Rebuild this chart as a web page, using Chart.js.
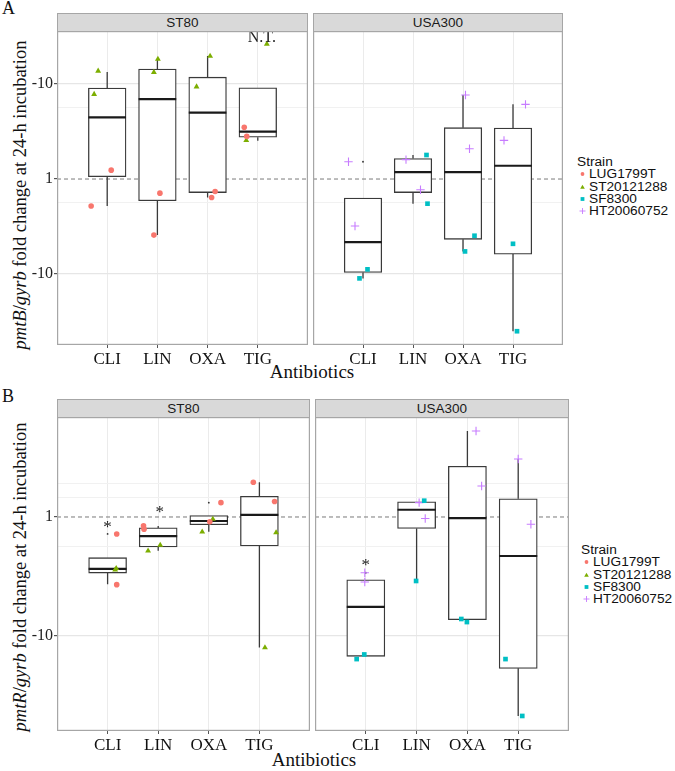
<!DOCTYPE html>
<html><head><meta charset="utf-8">
<script src="https://cdn.jsdelivr.net/npm/chart.js@4.4.1/dist/chart.umd.min.js"></script>
<style>
body{margin:0;background:#fff;width:675px;height:771px;position:relative;overflow:hidden;font-family:'Liberation Serif','Times New Roman',serif;}
canvas{position:absolute}
.strip{position:absolute;background:#d9d9d9;border:1px solid #a6a6a6;box-sizing:border-box;font-family:'Liberation Sans',Arial,sans-serif;font-size:13.5px;color:#1a1a1a;text-align:center;line-height:17px}
.ytitle{position:absolute;white-space:nowrap;font-size:18.5px;transform:translate(-50%,-50%) rotate(-90deg);color:#111}
.xtitle{position:absolute;font-size:19px;transform:translate(-50%,-50%);color:#111;white-space:nowrap}
.plab{position:absolute;font-size:18px;color:#111}
.legend{position:absolute;font-family:'Liberation Sans',Arial,sans-serif;font-size:13.7px;color:#111;line-height:12.3px;white-space:nowrap}
.legend .row{display:flex;align-items:center;height:12.3px}
.legend svg{display:block;margin-right:1px}
</style></head><body>
<div class="plab" style="left:2px;top:-2px">A</div>
<div class="plab" style="left:2px;top:386px">B</div>
<div class="strip" style="left:57px;top:13px;width:251px;height:19px">ST80</div>
<div class="strip" style="left:313px;top:13px;width:250px;height:19px">USA300</div>
<div class="strip" style="left:57px;top:399px;width:253px;height:19px">ST80</div>
<div class="strip" style="left:315px;top:399px;width:254px;height:19px">USA300</div>
<div class="ytitle" style="left:20px;top:195px"><i>pmtB</i>/<i>gyrb</i> fold change at 24-h incubation</div>
<div class="ytitle" style="left:20px;top:577px"><i>pmtR</i>/<i>gyrb</i> fold change at 24-h incubation</div>
<div class="xtitle" style="left:312px;top:372px">Antibiotics</div>
<div class="xtitle" style="left:314px;top:760px">Antibiotics</div>
<div id="legA" class="legend" style="left:577px;top:156px"></div>
<div id="legB" class="legend" style="left:581px;top:544px"></div>
<script>
// ---------------- DATA ----------------
const categories = ['CLI', 'LIN', 'OXA', 'TIG'];
const strainNames = ['LUG1799T', 'ST20121288', 'SF8300', 'HT20060752'];
const yTickValues = [0.1, 1, 10];
const yTickLabels = ['-10', '1', '-10'];

// box stats per category: [lower whisker, Q1, median, Q3, upper whisker] (fold change)
const boxA_ST80   = [[0.52, 1.06, 4.46, 9.08, 13.4], [0.257, 0.59, 6.95, 14.4, 18.3], [0.64, 0.72, 4.99, 11.8, 19.7], [2.53, 2.75, 3.15, 9.14, 9.14]];
const boxA_USA300 = [[0.090, 0.104, 0.217, 0.63, 0.63], [0.55, 0.72, 1.18, 1.64, 1.79], [0.173, 0.232, 1.18, 3.47, 7.66], [0.025, 0.162, 1.38, 3.44, 6.11]];
const boxB_ST80   = [[0.272, 0.338, 0.366, 0.455, 0.455], [0.52, 0.56, 0.69, 0.81, 0.84], [0.75, 0.86, 0.925, 1.03, 1.03], [0.080, 0.57, 1.04, 1.49, 1.96]];
const boxB_USA300 = [[0.0675, 0.0675, 0.176, 0.297, 0.297], [0.29, 0.80, 1.15, 1.34, 1.34], [0.137, 0.137, 0.98, 2.67, 5.28], [0.0213, 0.0535, 0.47, 1.42, 3.07]];

// outliers per category
const outA_ST80   = [[], [], [], []];
const outA_USA300 = [[1.52], [], [], []];
const outB_ST80   = [[0.72], [], [1.32], []];
const outB_USA300 = [[0.34], [], [], []];

// replicate values per category (fold change) and horizontal jitter (category units)
const A_ST80_LUG1799T        = [[1.24, 0.52], [0.71, 0.257], [0.74, 0.64], [3.5, 2.81]];
const A_ST80_LUG1799T_jit    = [[0.08, -0.32], [0.05, -0.07], [0.15, 0.08], [-0.27, -0.22]];
const A_ST80_ST20121288      = [[13.7, 7.8], [18.3, 13.3], [19.7, 9.37], [26.4, 2.55]];
const A_ST80_ST20121288_jit  = [[-0.18, -0.26], [0.01, -0.07], [0.05, -0.22], [0.18, -0.23]];
const A_USA300_SF8300        = [[0.112, 0.090], [1.79, 0.55], [0.253, 0.173], [0.208, 0.025]];
const A_USA300_SF8300_jit    = [[0.09, -0.07], [0.27, 0.29], [0.23, 0.04], [0.0, 0.08]];
const A_USA300_HT20060752    = [[1.52, 0.32], [1.6, 0.77], [7.66, 2.08], [6.11, 2.55]];
const A_USA300_HT20060752_jit= [[-0.29, -0.16], [-0.14, 0.15], [0.05, 0.13], [0.25, -0.18]];

const B_ST80_LUG1799T        = [[0.72, 0.27], [0.845, 0.79], [1.32, 0.91], [1.96, 1.35]];
const B_ST80_LUG1799T_jit    = [[0.18, 0.18], [-0.29, -0.28], [0.24, 0.02], [-0.12, 0.30]];
const B_ST80_ST20121288      = [[0.37, 0.36], [0.52, 0.58], [0.96, 0.75], [0.74, 0.080]];
const B_ST80_ST20121288_jit  = [[0.17, 0.15], [-0.20, 0.04], [0.08, -0.13], [0.33, 0.11]];
const B_USA300_SF8300        = [[0.070, 0.064], [1.37, 0.29], [0.139, 0.131], [0.064, 0.0213]];
const B_USA300_SF8300_jit    = [[-0.03, -0.18], [0.15, -0.01], [-0.12, -0.01], [-0.25, 0.08]];
const B_USA300_HT20060752    = [[0.34, 0.284], [1.32, 0.97], [5.28, 1.82], [3.07, 0.87]];
const B_USA300_HT20060752_jit= [[-0.02, -0.02], [0.05, 0.17], [0.17, 0.28], [0.0, 0.25]];

// text annotations
const notesA_ST80   = [{cat: 4, dx: 0.08, value: 31, text: 'N.T.'}];
const notesA_USA300 = [];
const notesB_ST80   = [{cat: 1, dx: 0, value: 0.885, text: '*'}, {cat: 2, dx: 0.03, value: 1.2, text: '*'}];
const notesB_USA300 = [{cat: 1, dx: 0, value: 0.427, text: '*'}];

// minor grid positions (fold change)
const minorA = [5.62, 0.562];
const minorB = [1.92, 1.47, 0.562];

// ---------------- STYLE ----------------
const strainStyle = {
  LUG1799T:   {color: '#F8766D', shape: 'circle',   r: 2.8},
  ST20121288: {color: '#7CAE00', shape: 'triangle', r: 3.4},
  SF8300:     {color: '#00BFC4', shape: 'rect',     r: 3.3},
  HT20060752: {color: '#C77CFF', shape: 'cross',    r: 4.2}
};
const SERIF = "'Liberation Serif','Times New Roman',serif";

function buildFacet(p) {
  const xH = 28;
  const canvas = document.createElement('canvas');
  canvas.width = p.width; canvas.height = p.plotH + xH;
  canvas.style.left = p.left + 'px'; canvas.style.top = p.top + 'px';
  canvas.style.width = p.width + 'px'; canvas.style.height = (p.plotH + xH) + 'px';
  document.body.appendChild(canvas);
  const plotW = p.width - p.yAxisW;
  const unitPx = plotW / 5;
  const half = 0.375;

  const datasets = [];
  p.points.forEach(s => {
    const st = strainStyle[s.strain];
    const data = [];
    s.values.forEach((arr, c) => arr.forEach((v, k) => data.push({x: c + 1 + s.jitter[c][k], y: v})));
    datasets.push({
      type: 'scatter', data, order: 0,
      pointStyle: st.shape, radius: st.r,
      backgroundColor: st.color, borderColor: st.color,
      borderWidth: st.shape === 'cross' ? 1.1 : 0
    });
  });
  const outData = [];
  p.outliers.forEach((arr, c) => arr.forEach(v => outData.push({x: c + 1, y: v})));
  datasets.push({type: 'scatter', data: outData, order: 1, radius: 0.9, backgroundColor: '#333', borderWidth: 0});

  const med = [], whisk = [], bars = [];
  p.box.forEach((b, c) => {
    const x = c + 1;
    med.push({x: x - half, y: b[2]}, {x: x + half, y: b[2]}, {x: x, y: null});
    whisk.push({x, y: b[4]}, {x, y: b[3]}, {x, y: null}, {x, y: b[1]}, {x, y: b[0]}, {x, y: null});
    bars.push({x, y: [b[1], b[3]]});
  });
  datasets.push({type: 'line', data: med, order: 2, borderColor: '#1a1a1a', borderWidth: 2.2, pointRadius: 0, spanGaps: false});
  datasets.push({type: 'bar', data: bars, order: 3, backgroundColor: '#ffffff', borderColor: '#3a3a3a', borderWidth: 1.3, borderSkipped: false, barThickness: 2 * half * unitPx});
  datasets.push({type: 'line', data: whisk, order: 4, borderColor: '#3a3a3a', borderWidth: 1.3, pointRadius: 0, spanGaps: false});
  datasets.push({type: 'line', data: [{x: 0, y: 1}, {x: 5, y: 1}], order: 5, borderColor: '#7a7a7a', borderWidth: 1, borderDash: [4, 3], pointRadius: 0});

  const yTicks = yTickValues.filter(v => v >= p.yMin && v <= p.yMax).concat(p.minor);
  const isMajor = v => yTickValues.includes(v);

  const overlay = {
    id: 'overlay',
    afterDatasetsDraw(chart) {
      const {ctx, chartArea: a} = chart;
      const xs = chart.scales.x, ys = chart.scales.y;
      ctx.save();
      ctx.fillStyle = '#222';
      ctx.textAlign = 'center';
      p.notes.forEach(n => {
        const px = xs.getPixelForValue(n.cat + n.dx), py = ys.getPixelForValue(n.value);
        if (n.text === '*') {
          ctx.font = '17px ' + SERIF; ctx.textBaseline = 'alphabetic';
          ctx.fillText(n.text, px, py + 0.54 * 17);
        } else {
          ctx.font = '16px ' + SERIF; ctx.textBaseline = 'middle';
          ctx.fillText(n.text, px, py);
        }
      });
      ctx.strokeStyle = '#a6a6a6'; ctx.lineWidth = 1.2;
      ctx.strokeRect(a.left + 0.6, a.top + 0.6, a.right - a.left - 1.2, a.bottom - a.top - 1.2);
      ctx.restore();
    }
  };

  new Chart(canvas, {
    type: 'scatter',
    data: {datasets},
    plugins: [overlay],
    options: {
      responsive: false, animation: false, events: [],
      layout: {padding: 0, autoPadding: false},
      plugins: {legend: {display: false}, tooltip: {enabled: false}},
      scales: {
        x: {
          type: 'linear', min: 0, max: 5, offset: false,
          afterBuildTicks: s => { s.ticks = [1, 2, 3, 4].map(v => ({value: v})); },
          afterFit: s => { s.height = xH; s.paddingLeft = 0; s.paddingRight = 0; },
          ticks: {callback: v => categories[v - 1], font: {family: SERIF, size: 17}, color: '#111', padding: 1, maxRotation: 0, autoSkip: false},
          grid: {color: '#ebebeb', lineWidth: 1, tickLength: 3, tickColor: '#555', offset: false},
          border: {display: false}
        },
        y: {
          type: 'logarithmic', min: p.yMin, max: p.yMax,
          afterBuildTicks: s => { s.ticks = yTicks.map(v => ({value: v})); },
          afterFit: s => { s.width = p.yAxisW; s.paddingTop = 0; s.paddingBottom = 0; },
          ticks: {
            display: p.yAxisW > 0,
            callback: v => { const i = yTickValues.indexOf(v); return i >= 0 ? yTickLabels[i] : ''; },
            font: {family: SERIF, size: 16}, color: '#222', padding: 1
          },
          grid: {
            drawTicks: p.yAxisW > 0, tickLength: 3,
            color: c => c.tick && c.tick.value === 1 ? 'rgba(0,0,0,0)' : (c.tick && isMajor(c.tick.value) ? '#e6e6e6' : '#f1f1f1'),
            lineWidth: c => c.tick && isMajor(c.tick.value) ? 1.2 : 1,
            tickColor: c => c.tick && isMajor(c.tick.value) ? '#555' : 'rgba(0,0,0,0)'
          },
          border: {display: false}
        }
      }
    }
  });
}

const yA = {min: Math.pow(10, -1.747), max: Math.pow(10, 1.558)};
const yB = {min: Math.pow(10, -1.798), max: Math.pow(10, 0.84)};

buildFacet({left: 0, top: 31, width: 308, plotH: 314, yAxisW: 57, yMin: yA.min, yMax: yA.max, minor: minorA,
  box: boxA_ST80, outliers: outA_ST80, notes: notesA_ST80,
  points: [{strain: 'LUG1799T', values: A_ST80_LUG1799T, jitter: A_ST80_LUG1799T_jit},
           {strain: 'ST20121288', values: A_ST80_ST20121288, jitter: A_ST80_ST20121288_jit}]});
buildFacet({left: 313, top: 31, width: 250, plotH: 314, yAxisW: 0, yMin: yA.min, yMax: yA.max, minor: minorA,
  box: boxA_USA300, outliers: outA_USA300, notes: notesA_USA300,
  points: [{strain: 'SF8300', values: A_USA300_SF8300, jitter: A_USA300_SF8300_jit},
           {strain: 'HT20060752', values: A_USA300_HT20060752, jitter: A_USA300_HT20060752_jit}]});
buildFacet({left: 0, top: 417, width: 310, plotH: 314, yAxisW: 57, yMin: yB.min, yMax: yB.max, minor: minorB,
  box: boxB_ST80, outliers: outB_ST80, notes: notesB_ST80,
  points: [{strain: 'LUG1799T', values: B_ST80_LUG1799T, jitter: B_ST80_LUG1799T_jit},
           {strain: 'ST20121288', values: B_ST80_ST20121288, jitter: B_ST80_ST20121288_jit}]});
buildFacet({left: 315, top: 417, width: 254, plotH: 314, yAxisW: 0, yMin: yB.min, yMax: yB.max, minor: minorB,
  box: boxB_USA300, outliers: outB_USA300, notes: notesB_USA300,
  points: [{strain: 'SF8300', values: B_USA300_SF8300, jitter: B_USA300_SF8300_jit},
           {strain: 'HT20060752', values: B_USA300_HT20060752, jitter: B_USA300_HT20060752_jit}]});

// legends
function markerSvg(name) {
  const st = strainStyle[name];
  let shape = '';
  if (st.shape === 'circle') shape = `<circle cx="5.5" cy="6" r="1.9" fill="${st.color}"/>`;
  else if (st.shape === 'triangle') shape = `<polygon points="5.5,3.8 7.8,7.8 3.2,7.8" fill="${st.color}"/>`;
  else if (st.shape === 'rect') shape = `<rect x="3.6" y="4.1" width="3.8" height="3.8" fill="${st.color}"/>`;
  else shape = `<path d="M5.5 3 V9 M2.5 6 H8.5" stroke="${st.color}" stroke-width="0.9"/>`;
  return `<svg width="11" height="12" viewBox="0 0 11 12">${shape}</svg>`;
}
['legA', 'legB'].forEach(id => {
  const el = document.getElementById(id);
  let html = '<div class="row">Strain</div>';
  strainNames.forEach(n => { html += `<div class="row">${markerSvg(n)}<span>${n}</span></div>`; });
  el.innerHTML = html;
});
</script>
</body></html>
